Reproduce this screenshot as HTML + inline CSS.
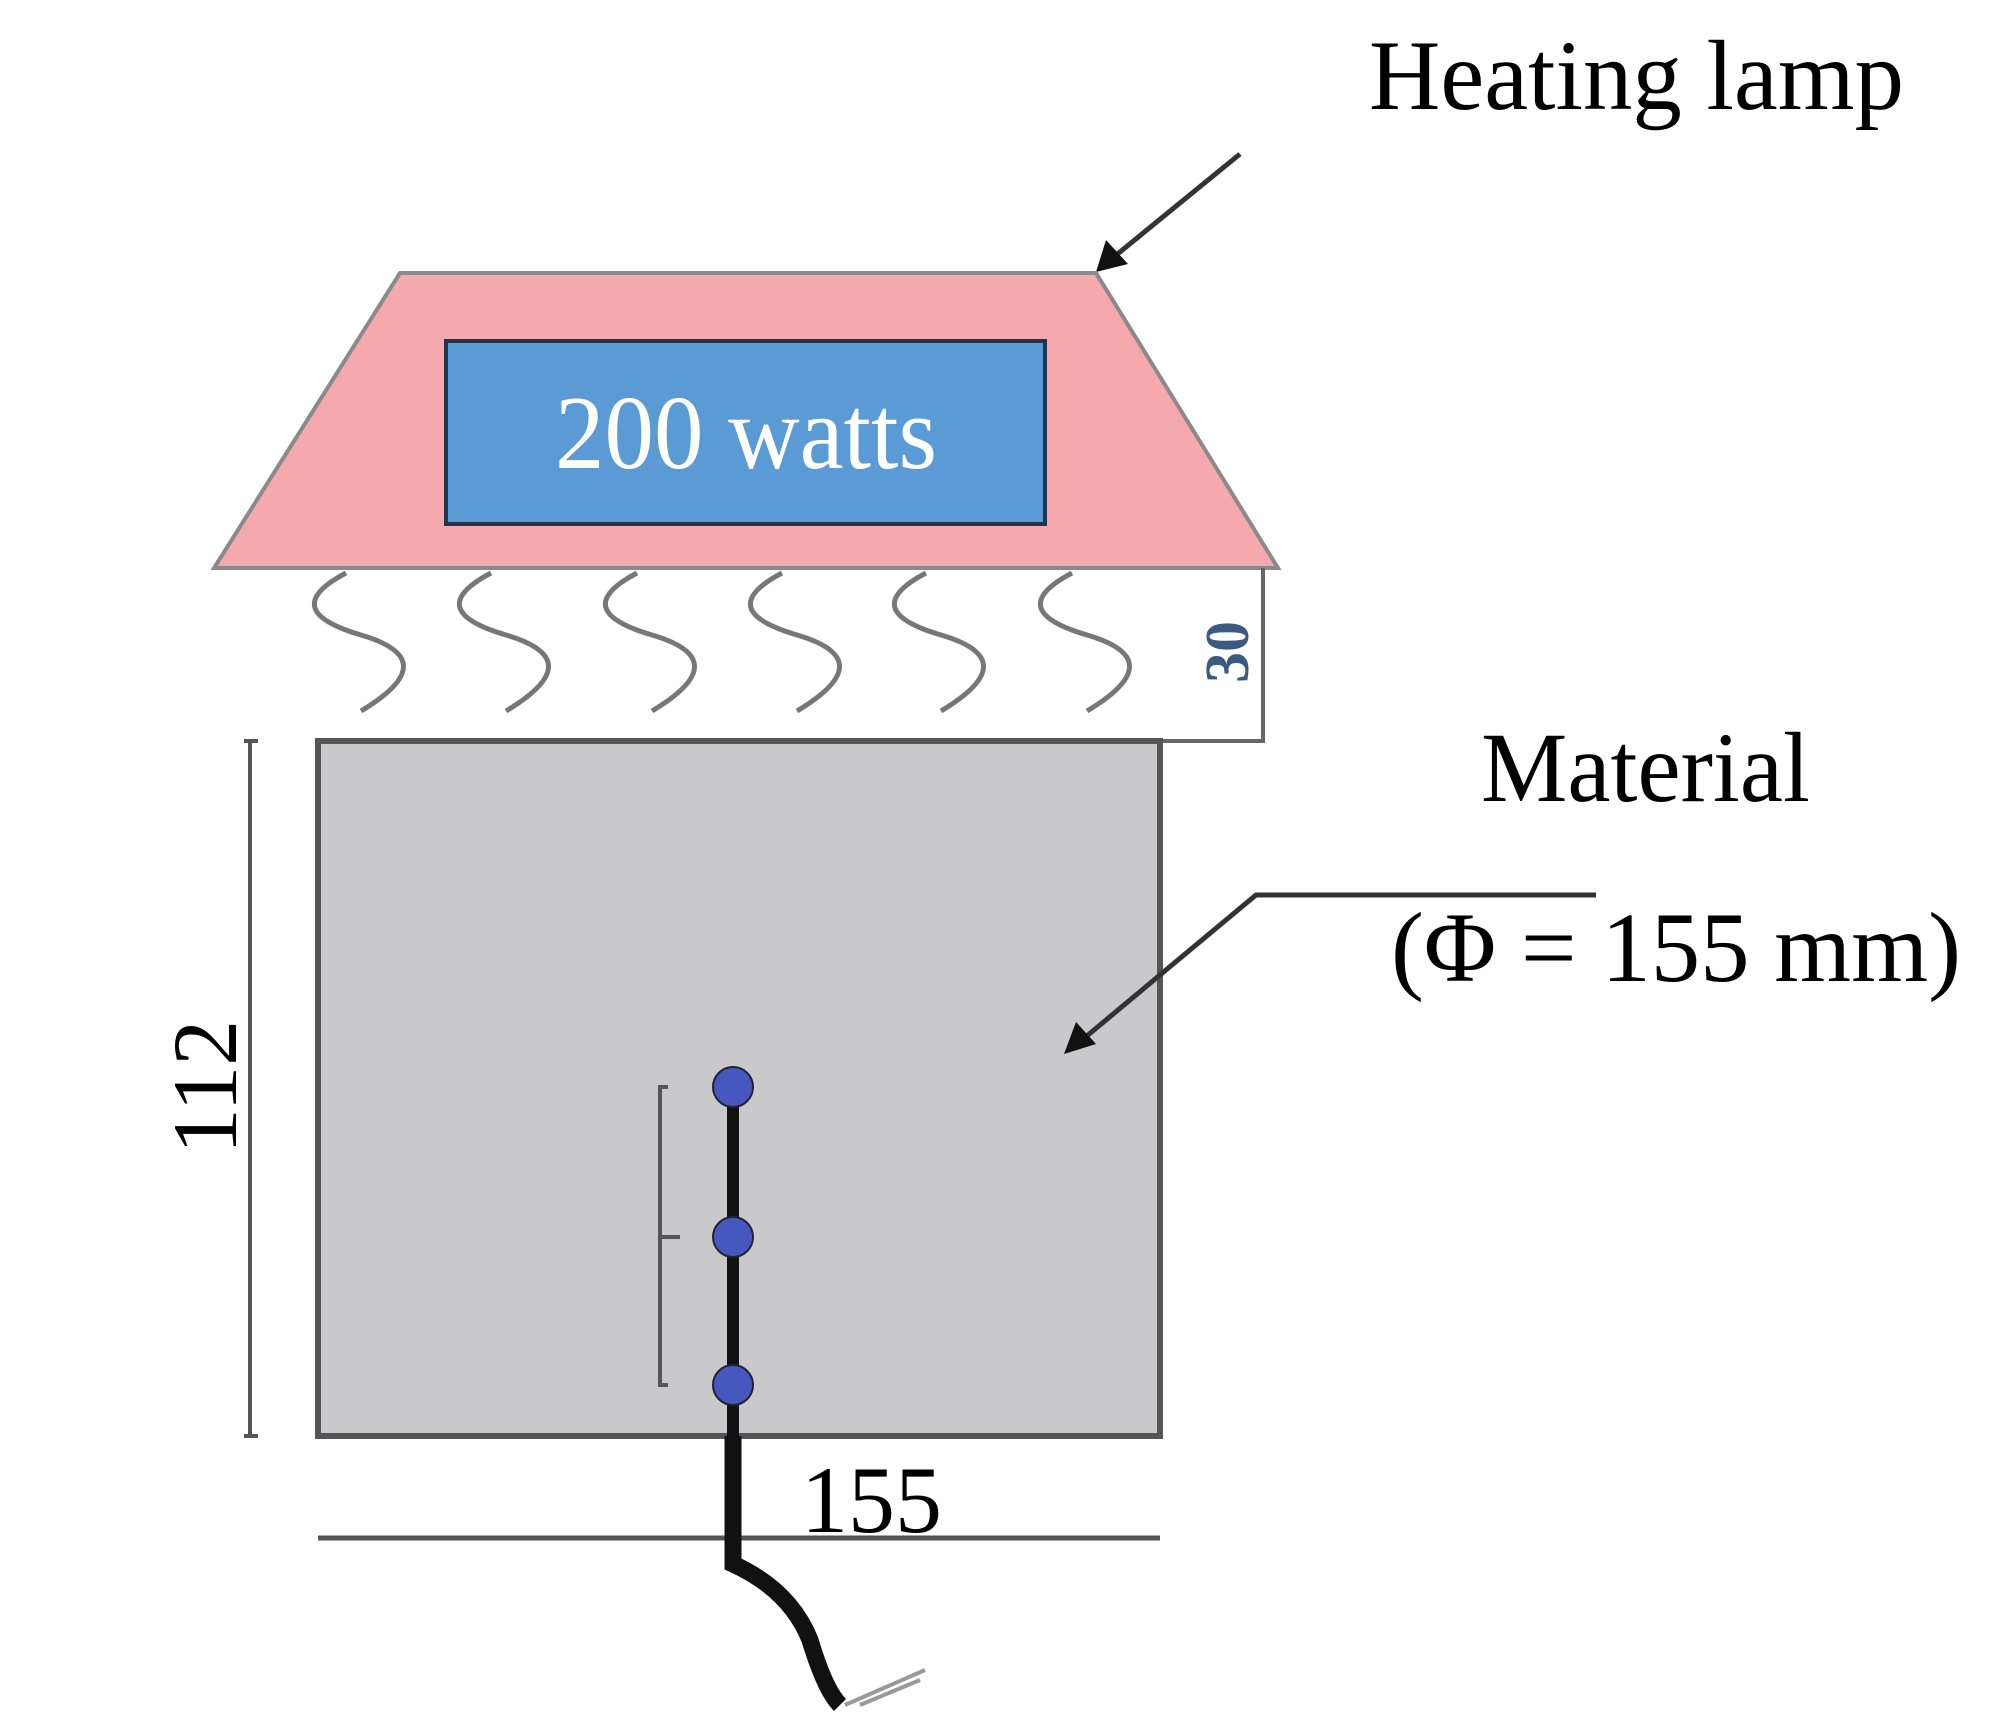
<!DOCTYPE html>
<html><head><meta charset="utf-8"><style>
html,body{margin:0;padding:0;background:#fff;}
svg{display:block;}
text{font-family:"Liberation Serif",serif;}
</style></head><body>
<svg width="2000" height="1730" viewBox="0 0 2000 1730" xmlns="http://www.w3.org/2000/svg">
<text x="1369" y="109" font-size="100" textLength="535" lengthAdjust="spacingAndGlyphs" fill="#000">Heating lamp</text>
<line x1="1240" y1="154" x2="1115" y2="256" stroke="#333" stroke-width="5"/>
<polygon points="1096,272 1106,240 1128,264" fill="#111"/>
<polygon points="400,273 1096,273 1278,568 214,568" fill="#f5a9ad" stroke="#8a8a8a" stroke-width="4"/>
<rect x="446" y="341" width="599" height="183" fill="#5b9bd5" stroke="#1f3550" stroke-width="4"/>
<text x="746" y="468" font-size="105" text-anchor="middle" textLength="382" lengthAdjust="spacingAndGlyphs" fill="#fff">200 watts</text>
<polyline points="1160,741 1263,741 1263,568" fill="none" stroke="#666" stroke-width="4"/>
<g fill="none" stroke="#777" stroke-width="5">
<path d="M346,573 Q276,610 361,635 Q446,660 361,711"/>
<path d="M491,573 Q421,610 506,635 Q591,660 506,711"/>
<path d="M637,573 Q567,610 652,635 Q737,660 652,711"/>
<path d="M782,573 Q712,610 797,635 Q882,660 797,711"/>
<path d="M926,573 Q856,610 941,635 Q1026,660 941,711"/>
<path d="M1072,573 Q1002,610 1087,635 Q1172,660 1087,711"/>
</g>
<text transform="translate(1248,652) rotate(-90)" font-size="62" font-weight="bold" text-anchor="middle" fill="#3a5a80" font-family="Liberation Sans, sans-serif">30</text>
<rect x="318" y="741" width="842" height="695" fill="#c9c9cb" stroke="#555" stroke-width="6"/>
<text x="1481" y="801" font-size="100" textLength="329" lengthAdjust="spacingAndGlyphs" fill="#000">Material</text>
<text x="1391" y="981" font-size="100" textLength="570" lengthAdjust="spacingAndGlyphs" fill="#000">(Φ = 155 mm)</text>
<polyline points="1596,895 1256,895 1082,1040" fill="none" stroke="#333" stroke-width="5"/>
<polygon points="1064,1054 1076,1022 1096,1044" fill="#111"/>
<line x1="250" y1="741" x2="250" y2="1436" stroke="#555" stroke-width="4"/>
<line x1="244" y1="741" x2="258" y2="741" stroke="#555" stroke-width="4"/>
<line x1="244" y1="1436" x2="258" y2="1436" stroke="#555" stroke-width="4"/>
<text transform="translate(236,1087) rotate(-90)" font-size="92" text-anchor="middle" fill="#000">112</text>
<line x1="318" y1="1538" x2="1160" y2="1538" stroke="#555" stroke-width="5"/>
<rect x="790" y="1445" width="165" height="88" fill="#fff"/>
<text x="801" y="1532" font-size="95" textLength="141" lengthAdjust="spacingAndGlyphs" fill="#000">155</text>
<polyline points="668,1087 660,1087 660,1385 668,1385" fill="none" stroke="#555" stroke-width="4"/>
<line x1="660" y1="1237" x2="680" y2="1237" stroke="#555" stroke-width="4"/>
<line x1="733" y1="1087" x2="733" y2="1436" stroke="#111" stroke-width="12"/>
<path d="M733,1436 L733,1564 Q790,1590 810,1640 Q825,1690 840,1705" fill="none" stroke="#111" stroke-width="17"/>
<path d="M845,1705 L925,1670 M860,1705 L920,1680" fill="none" stroke="#999" stroke-width="4"/>
<g fill="#4657c0" stroke="#223" stroke-width="2">
<circle cx="733" cy="1087" r="20"/>
<circle cx="733" cy="1237" r="20"/>
<circle cx="733" cy="1385" r="20"/>
</g>
</svg>
</body></html>
